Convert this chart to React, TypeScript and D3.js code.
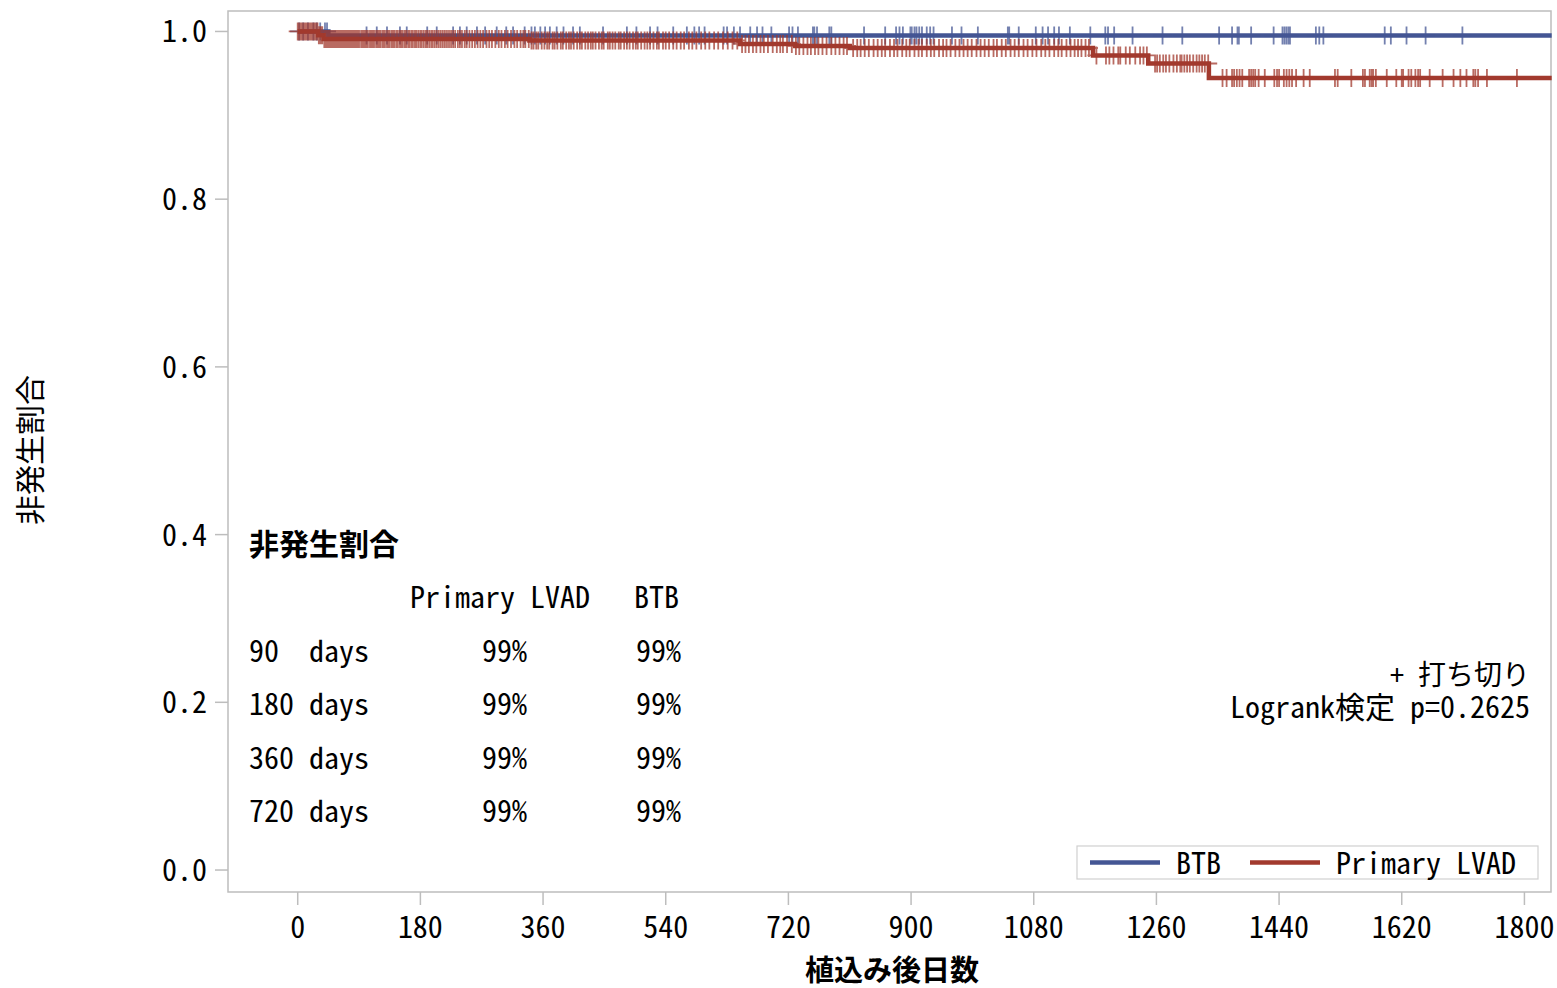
import React from 'react';
import * as d3 from 'd3';

// ---------- data ----------
const xTicks = [0, 180, 360, 540, 720, 900, 1080, 1260, 1440, 1620, 1800];
const yTicks = [0, 0.2, 0.4, 0.6, 0.8, 1.0];

const followUpEnd = 1840;

// Kaplan-Meier event times and survival after each event
const btbEventTimes = [45];
const btbSurvival = [0.9952];
const lvadEventTimes = [30, 38, 340, 649, 730, 810, 1167, 1248, 1337];
const lvadSurvival = [0.9955, 0.991, 0.9893, 0.9851, 0.9827, 0.9803, 0.9714, 0.9618, 0.9445];

// censoring times (days)
const btbCensor = [
  2, 8, 15, 23, 28, 33, 40, 43, 101, 116, 131, 150, 160, 190, 204, 228, 238, 248, 263, 275, 292,
  306, 316, 333, 343, 348, 356, 363, 370, 380, 390, 404, 414, 448, 483, 497, 517, 528, 551, 571,
  582, 589, 597, 625, 630, 640, 649, 664, 674, 682, 695, 721, 726, 734, 756, 758, 762, 780, 783,
  831, 862, 878, 883, 888, 899, 901, 905, 908, 912, 916, 923, 928, 933, 960, 974, 998, 1042,
  1044, 1058, 1083, 1093, 1101, 1110, 1117, 1133, 1163, 1185, 1189, 1198, 1225, 1269, 1298,
  1352, 1371, 1379, 1381, 1399, 1432, 1445, 1448, 1451, 1454, 1456, 1494, 1499, 1505, 1595,
  1604, 1627, 1655, 1709,
];

const lvadCensor = [
  0, 1, 2, 3, 4, 5, 6, 7, 8, 9, 10, 11, 12, 13, 14, 15, 17, 18, 19, 21, 22, 24, 25, 27, 28, 29,
  31, 33, 34, 36, 39, 40, 42, 44, 45, 47, 49, 51, 53, 54, 56, 58, 60, 62, 63, 65, 67, 69, 71, 73,
  75, 77, 79, 80, 82, 84, 86, 88, 90, 93, 95, 97, 99, 101, 103, 106, 108, 110, 112, 115, 117, 119,
  121, 124, 126, 128, 131, 133, 135, 138, 140, 142, 145, 147, 150, 152, 154, 157, 159, 162, 164,
  167, 169, 172, 174, 177, 180, 182, 185, 188, 190, 193, 196, 198, 201, 204, 207, 210, 213, 216,
  219, 222, 225, 228, 231, 235, 238, 241, 245, 248, 252, 256, 260, 264, 268, 272, 277, 281, 285,
  290, 295, 299, 304, 308, 313, 318, 322, 327, 331, 334, 339, 343, 346, 350, 353, 358, 362, 366,
  369, 374, 377, 381, 386, 389, 394, 398, 401, 405, 410, 414, 417, 422, 426, 430, 433, 437, 442,
  446, 449, 455, 458, 462, 466, 471, 474, 479, 483, 487, 492, 496, 499, 504, 509, 513, 517, 522,
  527, 530, 536, 540, 545, 551, 556, 562, 567, 574, 579, 585, 592, 598, 604, 611, 617, 624, 631,
  638, 645, 652, 657, 662, 668, 673, 679, 684, 690, 697, 703, 708, 712, 718, 725, 731, 736, 742,
  748, 753, 759, 764, 770, 776, 783, 789, 795, 801, 806, 815, 821, 826, 832, 838, 845, 851, 857,
  862, 869, 875, 880, 887, 893, 898, 905, 911, 916, 923, 929, 934, 941, 947, 952, 958, 965, 971,
  977, 983, 989, 996, 1002, 1008, 1014, 1021, 1026, 1033, 1039, 1046, 1052, 1058, 1065, 1071,
  1078, 1084, 1091, 1097, 1103, 1110, 1116, 1121, 1128, 1134, 1140, 1145, 1150, 1156, 1161,
  1172, 1186, 1191, 1197, 1204, 1207, 1215, 1221, 1229, 1236, 1241, 1246, 1258, 1261, 1265,
  1270, 1274, 1279, 1285, 1290, 1295, 1297, 1301, 1305, 1309, 1314, 1319, 1323, 1327, 1331,
  1336, 1357, 1363, 1371, 1374, 1378, 1382, 1386, 1396, 1399, 1402, 1405, 1410, 1419, 1433,
  1437, 1440, 1447, 1451, 1455, 1459, 1465, 1476, 1485, 1522, 1526, 1546, 1563, 1566, 1573,
  1576, 1578, 1582, 1598, 1612, 1620, 1622, 1630, 1634, 1640, 1644, 1647, 1661, 1680, 1696,
  1706, 1715, 1725, 1728, 1732, 1745, 1789,
];

const tableTitle = '非発生割合';
const tableGroups = ['Primary LVAD', 'BTB'];
const tableRows = ['90  days', '180 days', '360 days', '720 days'];
const tableLvad = ['99%', '99%', '99%', '99%'];
const tableBtb = ['99%', '99%', '99%', '99%'];

const legendLabels = ['BTB', 'Primary LVAD'];
const censorLabel = '+ 打ち切り';
const logrankLabel = 'Logrank検定 p=0.2625';
const xLabel = '植込み後日数';
const yLabel = '非発生割合';

// ---------- layout ----------
const W = 1557;
const H = 988;
const frame = { left: 228, top: 11, right: 1551, bottom: 892 };
const BLUE = '#445694';
const RED = '#A23A2E';
const FONT = "'Noto Sans Mono CJK JP', 'Noto Sans CJK JP', 'DejaVu Sans Mono', monospace";
const FS = 30;
const TY = -2; // vertical text nudge

const x = d3.scaleLinear().domain([-102.3, 1839]).range([frame.left, frame.right]);
const y = d3.scaleLinear().domain([-0.0262, 1.0244]).range([frame.bottom, frame.top]);

function survAt(times: number[], surv: number[], t: number) {
  let s = 1;
  for (let i = 0; i < times.length; i++) if (times[i] <= t) s = surv[i];
  return s;
}

function stepPath(times: number[], surv: number[]) {
  const pts: [number, number][] = [[0, 1]];
  times.forEach((t, i) => pts.push([t, surv[i]]));
  pts.push([followUpEnd, surv[surv.length - 1]]);
  const line = d3
    .line<[number, number]>()
    .x((d) => x(d[0]))
    .y((d) => y(d[1]))
    .curve(d3.curveStepAfter);
  return line(pts) || '';
}

function censorPath(censor: number[], times: number[], surv: number[]) {
  const a = 9;
  return censor
    .map((t) => {
      const cx = x(t);
      const cy = y(survAt(times, surv, t));
      return `M${cx - a},${cy}H${cx + a}M${cx},${cy - a}V${cy + a}`;
    })
    .join('');
}

export default function App() {
  const tickColor = '#BDBDBD';
  const rowY = [651, 704, 758, 811];
  return (
    <svg
      width={W}
      height={H}
      style={{ position: 'absolute', left: 0, top: 0, background: '#fff' }}
      fontFamily={FONT}
    >
      <rect x={0} y={0} width={W} height={H} fill="#fff" />
      {/* frame */}
      <rect
        x={frame.left}
        y={frame.top}
        width={frame.right - frame.left}
        height={frame.bottom - frame.top}
        fill="none"
        stroke={tickColor}
        strokeWidth={1.5}
      />
      {/* y axis */}
      {yTicks.map((v) => (
        <g key={'y' + v}>
          <line x1={frame.left - 13} x2={frame.left} y1={y(v)} y2={y(v)} stroke={tickColor} strokeWidth={1.5} />
          <text x={207} y={y(v) + TY} textAnchor="end" dominantBaseline="central" fontSize={FS} fill="#000">
            {v.toFixed(1)}
          </text>
        </g>
      ))}
      {/* x axis */}
      {xTicks.map((v) => (
        <g key={'x' + v}>
          <line x1={x(v)} x2={x(v)} y1={frame.bottom} y2={frame.bottom + 13} stroke={tickColor} strokeWidth={1.5} />
          <text x={x(v)} y={927 + TY} textAnchor="middle" dominantBaseline="central" fontSize={FS} fill="#000">
            {v}
          </text>
        </g>
      ))}
      <text x={892} y={968} textAnchor="middle" dominantBaseline="central" fontSize={29} fontWeight="bold" fill="#000">
        {xLabel}
      </text>
      <text
        transform={`translate(28,450) rotate(-90)`}
        textAnchor="middle"
        dominantBaseline="central"
        fontSize={FS}
        fill="#000"
      >
        {yLabel}
      </text>

      {/* curves */}
      <path d={stepPath(btbEventTimes, btbSurvival)} fill="none" stroke={BLUE} strokeWidth={4.5} />
      <path d={censorPath(btbCensor, btbEventTimes, btbSurvival)} fill="none" stroke={BLUE} strokeWidth={1.8} strokeOpacity={0.75} />
      <path d={stepPath(lvadEventTimes, lvadSurvival)} fill="none" stroke={RED} strokeWidth={4.5} />
      <path d={censorPath(lvadCensor, lvadEventTimes, lvadSurvival)} fill="none" stroke={RED} strokeWidth={1.8} strokeOpacity={0.75} />

      {/* inset table */}
      <text x={249} y={544 + TY} dominantBaseline="central" fontSize={FS} fontWeight="bold" fill="#000">
        {tableTitle}
      </text>
      <text x={410} y={597 + TY} dominantBaseline="central" fontSize={FS} fill="#000" style={{ whiteSpace: 'pre' }}>
        {tableGroups[0]}
      </text>
      <text x={634} y={597 + TY} dominantBaseline="central" fontSize={FS} fill="#000">
        {tableGroups[1]}
      </text>
      {tableRows.map((r, i) => (
        <g key={r}>
          <text x={249} y={rowY[i] + TY} dominantBaseline="central" fontSize={FS} fill="#000" style={{ whiteSpace: 'pre' }}>
            {r}
          </text>
          <text x={527} y={rowY[i] + TY} textAnchor="end" dominantBaseline="central" fontSize={FS} fill="#000">
            {tableLvad[i]}
          </text>
          <text x={681} y={rowY[i] + TY} textAnchor="end" dominantBaseline="central" fontSize={FS} fill="#000">
            {tableBtb[i]}
          </text>
        </g>
      ))}

      {/* annotations */}
      <text x={1530} y={675 + TY} textAnchor="end" dominantBaseline="central" fontSize={28} fill="#000" style={{ whiteSpace: 'pre' }}>
        {censorLabel}
      </text>
      <text x={1530} y={707 + TY} textAnchor="end" dominantBaseline="central" fontSize={FS} fill="#000" style={{ whiteSpace: 'pre' }}>
        {logrankLabel}
      </text>

      {/* legend */}
      <rect x={1077} y={846} width={461} height={33} fill="#fff" stroke="#D0D0D0" strokeWidth={1.2} />
      <line x1={1090} x2={1160} y1={862.5} y2={862.5} stroke={BLUE} strokeWidth={4.5} />
      <text x={1176} y={862.5 + TY} dominantBaseline="central" fontSize={FS} fill="#000">
        {legendLabels[0]}
      </text>
      <line x1={1250} x2={1320} y1={862.5} y2={862.5} stroke={RED} strokeWidth={4.5} />
      <text x={1336} y={862.5 + TY} dominantBaseline="central" fontSize={FS} fill="#000" style={{ whiteSpace: 'pre' }}>
        {legendLabels[1]}
      </text>
    </svg>
  );
}
